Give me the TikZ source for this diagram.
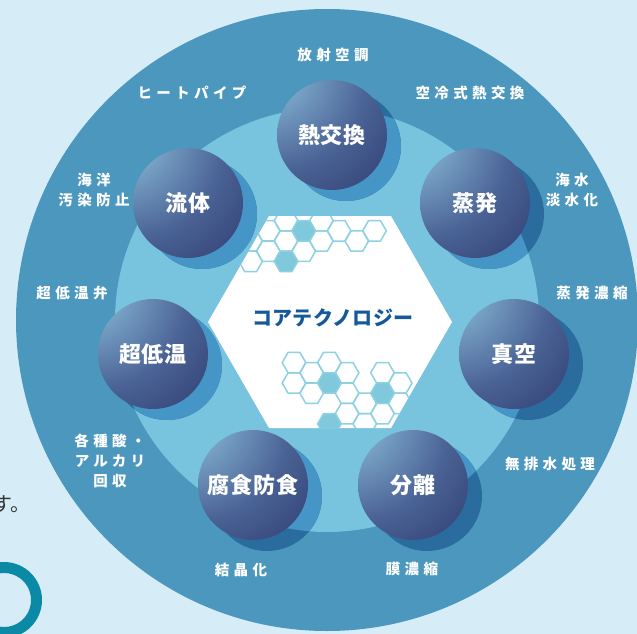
\documentclass[tikz,border=0pt]{standalone}
\usepackage{fontspec}
\newfontfamily\jp{Noto Sans CJK JP}
\newfontfamily\jplbl{Noto Sans CJK JP}[LetterSpace=30]
\newfontfamily\jpsph{Noto Sans CJK JP}[LetterSpace=4]
\newfontfamily\jpcore{Noto Sans CJK JP}[LetterSpace=2]
\definecolor{bgc}{HTML}{D6EDF8}
\definecolor{ringc}{HTML}{4B97BE}
\definecolor{innerc}{HTML}{78C3DE}
\definecolor{shadowin}{HTML}{4595C6}
\definecolor{shadowout}{HTML}{2B6C9E}
\definecolor{hexline}{HTML}{8DD1E3}
\definecolor{hexfill}{HTML}{80C8DC}
\definecolor{coretext}{HTML}{14599C}
\definecolor{tealc}{HTML}{0A8AA5}
\definecolor{sphA}{HTML}{9CC8E2}
\definecolor{sphB}{HTML}{7AA5C8}
\definecolor{sphC}{HTML}{4A6295}
\definecolor{sphD}{HTML}{2E3A6E}
\pgfdeclareradialshading{sphereshade}{\pgfpoint{-36bp}{36bp}}{%
  color(0bp)=(sphA); color(18bp)=(sphB); color(42bp)=(sphC); color(68bp)=(sphD); color(150bp)=(sphD)}
\tikzset{
  sphere/.style={circle, inner sep=0pt, minimum size=110pt, shading=sphereshade,
    text=white, font=\jpsph\bfseries\fontsize{22}{22}\selectfont},
  lbl/.style={text=white, align=center, inner sep=0pt,
    font=\jplbl\bfseries\fontsize{14.5}{20}\selectfont},
  hexo/.style={draw=hexline, line width=1.5pt},
  hexf/.style={draw=hexline, fill=hexfill, line width=1.5pt},
}
\begin{document}
\begin{tikzpicture}[x=1pt,y=-1pt]
\useasboundingbox (0,0) rectangle (637,634);
\fill[bgc] (0,0) rectangle (637,634);
% teal ring and text fragment at the left
\draw[tealc, line width=11pt] (4,600) circle[radius=32.5pt];
\node[anchor=base west, inner sep=0pt, text=black!80, font=\jp\fontsize{20}{20}\selectfont] (su) at (-8,511) {す。};
% rings
\fill[ringc] (327,320) circle[radius=311pt];
\fill[innerc] (327,320) circle[radius=212pt];
% central hexagon
\path[fill=white] (452,322) -- (391,216) -- (269,216) -- (208,322) -- (269,428) -- (391,428) -- cycle;
\begin{scope}
  \clip (452,322) -- (391,216) -- (269,216) -- (208,322) -- (269,428) -- (391,428) -- cycle;
  \foreach \x/\y in {286/220.6, 321.4/220.6, 268.3/230.8, 339.1/230.8, 374.5/230.8,
      250.6/241, 286/241, 321.4/241, 356.8/241, 268.3/251.2, 303.7/251.2, 250.6/261.4,
      294/362.6, 329.4/362.6, 294/383, 311.7/372.8, 347.1/372.8, 311.7/393.2, 347.1/393.2,
      382.5/372.8, 364.8/403.4, 347.1/413.6, 400.2/403.4, 364.8/423.8, 382.5/413.6, 400.2/383}
    \draw[hexo] (\x,\y) +(0:11.8) -- +(60:11.8) -- +(120:11.8) -- +(180:11.8) -- +(240:11.8) -- +(300:11.8) -- cycle;
  \foreach \x/\y in {303.7/230.8, 286/261.4, 329.4/383, 382.5/393.2, 329.4/423.8}
    \draw[hexf] (\x,\y) +(0:11.8) -- +(60:11.8) -- +(120:11.8) -- +(180:11.8) -- +(240:11.8) -- +(300:11.8) -- cycle;
\end{scope}
\node[text=coretext, inner sep=0pt, font=\jpcore\bfseries\fontsize{20}{20}\selectfont] (core) at (333,318) {コアテクノロジー};
% sphere positions
\coordinate (c1) at (332,135);
\coordinate (c2) at (475,203);
\coordinate (c3) at (514,354);
\coordinate (c4) at (413,485);
\coordinate (c5) at (253,485);
\coordinate (c6) at (153,354);
\coordinate (c7) at (188,203);
% shadows
\foreach \c in {c1,c2,c3,c4,c5,c6,c7}
  \fill[shadowout] ([shift={(14,11)}]\c) circle[radius=55pt];
\begin{scope}
  \clip (327,320) circle[radius=212pt];
  \foreach \c in {c1,c2,c3,c4,c5,c6,c7}
    \fill[shadowin] ([shift={(14,11)}]\c) circle[radius=55pt];
\end{scope}
% spheres
\node[sphere] (s1) at (c1) {熱交換};
\node[sphere] (s2) at (c2) {蒸発};
\node[sphere] (s3) at (c3) {真空};
\node[sphere] (s4) at (c4) {分離};
\node[sphere] (s5) at (c5) {腐食防食};
\node[sphere] (s6) at (c6) {超低温};
\node[sphere] (s7) at (c7) {流体};
% outer labels
\node[lbl] (l1) at (333,55) {放射空調};
\node[lbl] (l2) at (470,93) {空冷式熱交換};
\node[lbl] (l3) at (572,190) {海水\\淡水化};
\node[lbl] (l4) at (592,293) {蒸発濃縮};
\node[lbl] (l5) at (550,464) {無排水処理};
\node[lbl] (l6) at (412,569) {膜濃縮};
\node[lbl] (l7) at (241,570) {結晶化};
\node[lbl] (l8) at (110,461) {各種酸・\\アルカリ\\回収};
\node[lbl] (l9) at (72,293) {超低温弁};
\node[lbl] (l10) at (94,190) {海洋\\汚染防止};
\node[lbl] (l11) at (192,93) {ヒートパイプ};
\end{tikzpicture}
\end{document}
